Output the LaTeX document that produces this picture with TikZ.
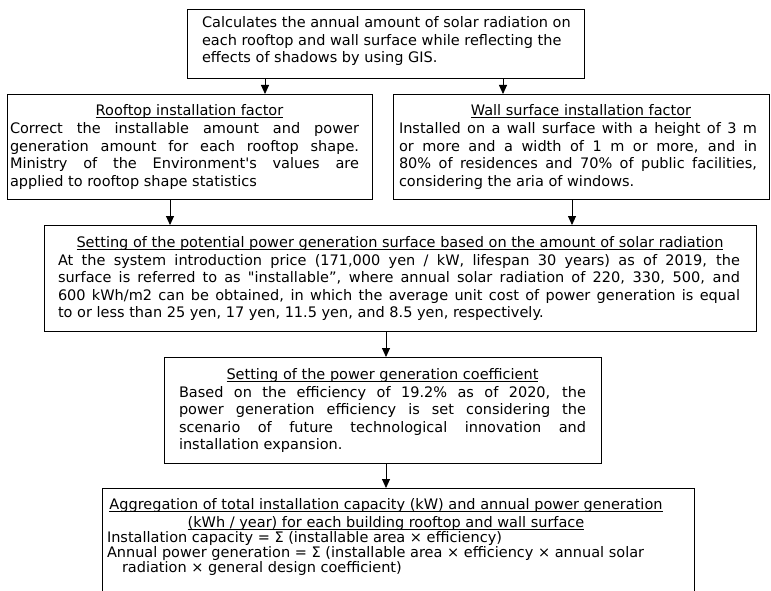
\documentclass[tikz,border=0pt]{standalone}
\usepackage{fontspec}
\setmainfont{DejaVu Sans}[Ligatures=TeXOff]
\usetikzlibrary{arrows.meta}
\newcommand\mystrutT[1]{\rule{0pt}{#1}}
\newcommand\mystrutB[1]{\rule[-#1]{0pt}{#1}}
\newcommand\myul[1]{\setbox0=\hbox{#1}\rlap{\rule[-2.2pt]{\wd0}{0.8pt}}\box0}
\newcommand\myjust{\spaceskip=0pt\xspaceskip=0pt\relax}
\tikzset{
  box/.style={draw, line width=1pt, inner xsep=0pt, inner ysep=0pt, anchor=north,
    align=justify, font=\fontsize{14.5}{17.6}\selectfont},
  arr/.style={-{Triangle[width=8pt,length=9pt]}, line width=0.9pt}
}
\begin{document}
\begin{tikzpicture}[x=1pt,y=-1pt]
\useasboundingbox (0,0) rectangle (771,591);
\clip (0,0) rectangle (771,591);

\node[box, text width=397pt] (calc) at (385.5,9) {%
\baselineskip=17.5pt\leftskip=15pt\rightskip=0pt plus 1fil
\mystrutT{18.3pt}Calculates the annual amount of solar radiation on\newline
each rooftop and wall surface while reflecting the\newline
effects of shadows by using GIS.\mystrutB{15.7pt}\par};

\node[box, text width=365pt] (roof) at (189.5,94) {%
\hbox to\hsize{\hss\mystrutT{21.5pt}\myul{Rooftop installation factor}\hss}\par
\myjust\leftskip=3pt\rightskip=13pt
Correct the installable amount and power\linebreak
generation amount for each rooftop shape.\linebreak
Ministry of the Environment's values are\linebreak
applied to rooftop shape statistics\mystrutB{13.5pt}\par};

\node[box, text width=376pt] (wall) at (581,94) {%
\hbox to\hsize{\hss\mystrutT{21.5pt}\myul{Wall surface installation factor}\hss}\par
\myjust\leftskip=6pt\rightskip=12pt
Installed on a wall surface with a height of 3 m\linebreak
or more and a width of 1 m or more, and in\linebreak
80\% of residences and 70\% of public facilities,\linebreak
considering the aria of windows.\mystrutB{13.5pt}\par};

\node[box, text width=712pt] (pot) at (400,225) {%
\hbox to\hsize{\hss\mystrutT{22pt}\myul{Setting of the potential power generation surface based on the amount of solar radiation}\hss}\par
\myjust\leftskip=14pt\rightskip=16pt
At the system introduction price (171,000 yen / kW, lifespan 30 years) as of 2019, the\linebreak
surface is referred to as "installable”, where annual solar radiation of 220, 330, 500, and\linebreak
600 kWh/m2 can be obtained, in which the average unit cost of power generation is equal\linebreak
to or less than 25 yen, 17 yen, 11.5 yen, and 8.5 yen, respectively.\mystrutB{14pt}\par};

\node[box, text width=437pt] (coef) at (382.5,357) {%
\hbox to\hsize{\hss\mystrutT{22pt}\myul{Setting of the power generation coefficient}\hss}\par
\myjust\leftskip=15pt\rightskip=15pt
Based on the efficiency of 19.2\% as of 2020, the\linebreak
power generation efficiency is set considering the\linebreak
scenario of future technological innovation and\linebreak
installation expansion.\mystrutB{14pt}\par};

\node[box, text width=592pt] (agg) at (398,488) {%
\baselineskip=18.3pt
\hbox to\hsize{\hss\mystrutT{21pt}\myul{Aggregation of total installation capacity (kW) and annual power generation}\hss\hskip24pt}\par
\hbox to\hsize{\hss\myul{(kWh / year) for each building rooftop and wall surface}\hss\hskip24pt}\par
\baselineskip=14.8pt
\leftskip=5pt\rightskip=0pt plus 1fil
Installation capacity = Σ (installable area × efficiency)\par
\hangindent=15pt\hangafter=1
Annual power generation = Σ (installable area × efficiency × annual solar\newline
radiation × general design coefficient)\mystrutB{40pt}\par};

\coordinate (xa) at (265,0);
\coordinate (xb) at (503,0);
\coordinate (xc) at (170,0);
\coordinate (xd) at (572,0);
\coordinate (xe) at (386,0);

\draw[arr] (xa |- calc.south) -- (xa |- roof.north);
\draw[arr] (xb |- calc.south) -- (xb |- wall.north);
\draw[arr] (xc |- roof.south) -- (xc |- pot.north);
\draw[arr] (xd |- wall.south) -- (xd |- pot.north);
\draw[arr] (xe |- pot.south) -- (xe |- coef.north);
\draw[arr] (xe |- coef.south) -- (xe |- agg.north);
\end{tikzpicture}
\end{document}
